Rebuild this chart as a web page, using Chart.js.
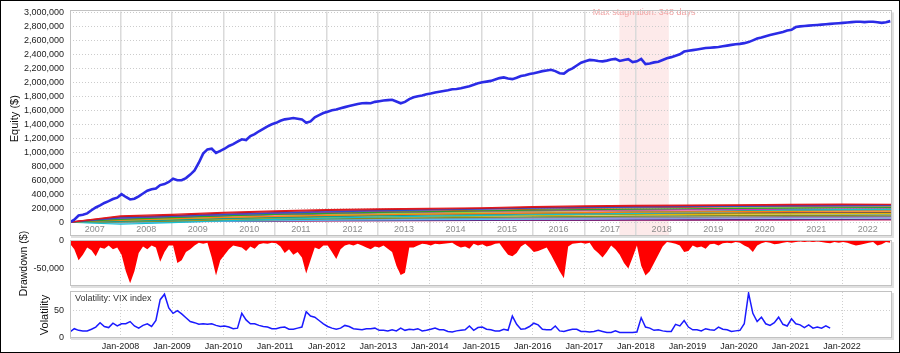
<!DOCTYPE html>
<html><head><meta charset="utf-8">
<script src="https://cdn.jsdelivr.net/npm/chart.js@4.4.0/dist/chart.umd.min.js"></script>
<style>
html,body{margin:0;padding:0;background:#fff;}
#wrap{position:relative;width:900px;height:353px;overflow:hidden;background:#fff;}
canvas{position:absolute;left:0;top:0;}
#frame{position:absolute;left:0;top:0;width:900px;height:353px;box-sizing:border-box;border:1px solid #000;pointer-events:none;}
</style></head><body>
<div id="wrap">
<canvas id="cEq" width="900" height="353"></canvas>
<canvas id="cDd" width="900" height="353"></canvas>
<canvas id="cVx" width="900" height="353"></canvas>
<div id="frame"></div>
</div>
<script>
// ---------------- DATA ----------------
const startYear = 2007.02;            // first monthly sample
const xMin = 2007.02, xMax = 2022.97;

// Main portfolio equity, monthly, thousands of $
const equityK = [
 0,35,95,105,125,170,210,240,275,300,330,350,
 400,360,325,335,370,410,450,470,480,530,545,575,
 620,600,600,630,680,740,850,980,1040,1050,990,1020,
 1050,1090,1115,1150,1185,1175,1230,1260,1300,1335,1370,1400,
 1420,1450,1470,1480,1490,1480,1470,1420,1440,1500,1530,1560,
 1580,1600,1610,1630,1645,1660,1675,1690,1700,1705,1700,1720,
 1730,1740,1745,1750,1725,1700,1720,1760,1785,1800,1810,1830,
 1840,1855,1865,1875,1885,1900,1905,1915,1930,1945,1965,1985,
 2000,2010,2020,2040,2060,2070,2055,2045,2065,2090,2100,2120,
 2130,2145,2160,2170,2180,2160,2130,2125,2170,2200,2240,2280,
 2300,2320,2315,2305,2300,2310,2325,2335,2305,2320,2330,2290,
 2300,2335,2260,2270,2285,2295,2320,2345,2360,2380,2400,2440,
 2450,2460,2470,2480,2490,2495,2500,2505,2515,2525,2535,2545,
 2550,2560,2575,2600,2625,2640,2660,2675,2690,2705,2720,2740,
 2750,2790,2800,2805,2810,2815,2820,2825,2830,2835,2840,2845,
 2850,2855,2860,2865,2865,2860,2865,2865,2860,2850,2860,2875
];

// Drawdown, monthly, thousands of $
const drawdownK = [
 -5,-15,-35,-25,-12,-17,-28,-12,-14,-8,-15,-12,
 -25,-55,-77,-55,-22,-10,-15,-8,-12,-38,-20,-8,
 -8,-40,-35,-20,-15,-8,-3,-5,-3,-30,-63,-35,
 -25,-15,-8,-10,-12,-18,-10,-14,-6,-4,-5,-3,
 -4,-10,-22,-15,-25,-20,-30,-59,-35,-12,-15,-8,
 -8,-20,-33,-15,-8,-6,-8,-5,-8,-12,-15,-10,
 -12,-8,-14,-20,-45,-62,-58,-12,-12,-8,-5,-6,
 -8,-5,-6,-5,-4,-3,-8,-12,-10,-14,-5,-8,
 -6,-10,-8,-5,-4,-15,-25,-28,-22,-10,-5,-12,
 -20,-18,-15,-12,-25,-40,-55,-68,-10,-5,-4,-3,
 -5,-3,-15,-22,-30,-20,-8,-15,-25,-40,-50,-30,
 -8,-45,-63,-55,-40,-25,-10,-2,-3,-5,-8,-20,
 -18,-8,-12,-10,-14,-6,-5,-8,-4,-3,-4,-2,
 -3,-8,-12,-20,-8,-4,-2,-3,-6,-5,-3,-2,
 -3,-2,-1,-2,-1,-2,-1,-2,-3,-4,-2,-3,
 -2,-3,-6,-8,-7,-5,-3,-2,-8,-6,-2,-3
];

// VIX index, monthly (Jan 2007 - Oct 2021)
const vix = [
 11,17,14,13,13,16,20,28,21,19,27,22,
 26,26,30,22,18,23,26,21,32,70,80,55,
 45,50,44,37,30,28,25,26,25,26,23,21,
 22,20,17,18,45,33,26,26,23,21,20,17,
 17,19,20,16,16,18,20,48,40,38,32,26,
 21,18,16,18,23,21,17,16,15,17,17,18,
 14,14,13,15,13,18,14,16,15,17,13,14,
 16,18,15,15,12,11,13,14,15,22,14,19,
 20,16,15,13,13,16,14,40,25,16,17,21,
 27,24,16,15,15,22,13,12,14,16,16,12,
 12,11,12,14,12,10,10,13,10,10,10,10,
 11,37,20,18,14,15,13,12,12,25,22,32,
 20,15,15,13,17,15,14,20,16,15,12,13,
 14,26,82,45,30,38,26,23,28,38,25,22,
 35,26,24,19,24,18,20,18,22,18
];

// Other strategies, yearly samples, thousands of $
const strategyYears = [2007.02,2008,2009,2010,2011,2012,2013,2014,2015,2016,2017,2018,2019,2020,2021,2022,2023];
const s01 = [0,90,112,140,162,178,190,196,206,222,232,240,244,247,254,258,256];
const s02 = [0,78,98,128,150,168,180,188,198,212,222,230,236,240,248,251,250];
const s03 = [0,60,84,108,128,148,160,174,186,200,208,214,222,226,232,234,236];
const s04 = [0,70,90,116,136,156,168,178,190,204,212,220,226,230,236,240,242];
const s05 = [0,40,64,90,110,126,140,150,160,172,180,186,192,196,202,206,208];
const s06 = [0,30,50,68,84,96,106,114,122,130,136,142,146,150,154,156,158];
const s07 = [0,-30,-8,20,40,58,74,86,96,106,116,126,136,150,172,180,182];
const s08 = [0,10,30,50,66,80,92,102,112,122,132,142,150,160,168,174,176];
const s09 = [0,50,70,96,114,130,140,148,156,166,172,176,180,184,186,190,192];
const s10 = [0,20,40,60,80,100,116,130,142,156,166,176,186,200,206,212,214];
const s11 = [0,15,30,44,56,66,74,82,88,96,102,106,110,114,118,121,122];
const s12 = [0,25,40,56,70,84,94,102,108,116,122,126,130,134,138,140,142];
const s13 = [0,35,55,76,92,106,118,128,138,148,154,160,164,168,170,173,175];
const s14 = [0,45,60,80,96,110,122,132,140,150,158,164,170,172,176,178,180];
const s15 = [0,5,15,26,36,46,54,60,68,76,80,86,90,93,96,98,99];
const s16 = [0,-15,0,14,26,36,46,54,62,70,76,82,88,96,100,104,108];
const s17 = [0,10,20,30,38,46,50,56,60,66,68,70,72,76,78,80,82];
const s18 = [0,20,26,34,40,46,48,50,52,56,57,58,60,62,66,68,70];
const s19 = [0,55,76,100,120,136,150,160,170,184,196,204,212,218,226,228,230];
const s20 = [0,14,26,40,50,62,70,80,88,98,106,112,118,126,130,136,138];
const s21 = [0,5,10,18,22,28,32,36,40,44,48,50,52,56,58,60,62];
const s22 = [0,10,12,15,18,20,22,24,26,28,30,32,34,36,38,40,42];
const s23 = [0,30,46,64,80,96,108,118,126,136,142,150,158,164,170,172,175];
const s24 = [0,5,8,10,14,18,20,22,24,25,26,27,28,30,30,31,32];
const strategyColors = ['#e41a1c','#b2182b','#3050d0','#7b3fa8','#2ca02c','#ff7f0e','#17becf','#1a9a8a',
 '#d62fbf','#9acd32','#e6b800','#8c564b','#f48fb1','#1f2a80','#8a8a20','#56b4e9',
 '#7f7f7f','#b07fe0','#e8501a','#1b7a2f','#4fc3f7','#5e2a84','#7fd34e','#c2185b'];
const strategies = [s01,s02,s03,s04,s05,s06,s07,s08,s09,s10,s11,s12,s13,s14,s15,s16,s17,s18,s19,s20,s21,s22,s23,s24];

// Stagnation period
const stagnationStart = 2017.68, stagnationEnd = 2018.64;
const stagnationText = 'Max stagnation: 348 days';

// Tick labels
const equityTicks = [0,200000,400000,600000,800000,1000000,1200000,1400000,1600000,1800000,2000000,2200000,2400000,2600000,2800000,3000000];
const yearLabels = ['2007','2008','2009','2010','2011','2012','2013','2014','2015','2016','2017','2018','2019','2020','2021','2022'];
const yearLabelCenters = [2007.5,2008.5,2009.5,2010.5,2011.5,2012.5,2013.5,2014.5,2015.5,2016.5,2017.5,2018.5,2019.5,2020.5,2021.5,2022.5];
const drawdownTicks = [0,-50000];
const vixTicks = [0,50];
const monthTickYears = [2008,2009,2010,2011,2012,2013,2014,2015,2016,2017,2018,2019,2020,2021,2022];
const monthTickLabels = ['Jan-2008','Jan-2009','Jan-2010','Jan-2011','Jan-2012','Jan-2013','Jan-2014','Jan-2015','Jan-2016','Jan-2017','Jan-2018','Jan-2019','Jan-2020','Jan-2021','Jan-2022'];

// ---------------- CHARTS ----------------
const FONT = "'Liberation Sans', Arial, sans-serif";
Chart.defaults.font.family = FONT;
Chart.defaults.font.size = 9;
Chart.defaults.color = '#222';

const monthly = (arr, scale) => arr.map((v, i) => ({x: startYear + i / 12, y: v * scale}));
const fmt = v => Number(v).toLocaleString('en-US');

function drawFrame(chart, bottom) {
  const {ctx, chartArea: a} = chart;
  const b = bottom === undefined ? a.bottom : bottom;
  ctx.save();
  ctx.fillStyle = '#e0e0e0';
  ctx.fillRect(a.right, a.top + 1, 2, b - a.top + 1);
  ctx.fillRect(a.left + 1, b, a.right - a.left + 1, 2);
  ctx.strokeStyle = '#c2c2c2';
  ctx.lineWidth = 1;
  ctx.strokeRect(Math.round(a.left) + 0.5, Math.round(a.top) - 0.5, Math.round(a.right - a.left) - 1, Math.round(b - a.top));
  ctx.restore();
}

const baseOpts = {
  responsive: false, animation: false, devicePixelRatio: 1, events: [],
  plugins: {legend: {display: false}, tooltip: {enabled: false}},
  elements: {point: {radius: 0}, line: {tension: 0}}
};

// Equity chart
const eqDatasets = [{
  data: monthly(equityK, 1000), borderColor: '#2b2be6', borderWidth: 2.6, pointRadius: 0
}];
strategies.forEach((s, k) => {
  eqDatasets.push({
    data: s.map((v, i) => ({x: strategyYears[i], y: v * 1000})),
    borderColor: strategyColors[k], borderWidth: 1.2, pointRadius: 0
  });
});

const eqPlugin = {
  id: 'eqPlugin',
  beforeDraw(chart) {
    const {ctx, chartArea: a, scales} = chart;
    const x1 = scales.x.getPixelForValue(stagnationStart);
    const x2 = scales.x.getPixelForValue(stagnationEnd);
    ctx.save();
    ctx.fillStyle = '#fdeaea';
    ctx.fillRect(x1, a.top, x2 - x1, a.bottom + 10 - a.top);
    ctx.fillStyle = '#f2a3a3';
    ctx.font = "9px " + FONT;
    ctx.textAlign = 'center';
    ctx.textBaseline = 'middle';
    ctx.fillText(stagnationText, (x1 + x2) / 2, 13);
    ctx.restore();
  },
  afterDraw(chart) { drawFrame(chart, chart.chartArea.bottom + 10); }
};

new Chart(document.getElementById('cEq'), {
  type: 'line',
  data: {datasets: eqDatasets},
  options: Object.assign({}, baseOpts, {
    layout: {padding: {left: 0, right: 8, top: 5, bottom: 117}},
    scales: {
      x: {
        type: 'linear', min: xMin, max: xMax,
        afterBuildTicks: ax => { ax.ticks = yearLabelCenters.map(v => ({value: v})); },
        afterFit: ax => { ax.height = 10; },
        grid: {offset: true, color: '#dadada', lineWidth: 1.5, drawTicks: true, tickLength: 10},
        border: {display: false},
        ticks: {autoSkip: false, maxRotation: 0, padding: -12, color: '#8c8c8c', callback: (v, i) => yearLabels[i]}
      },
      y: {
        min: -55000, max: 3014000,
        afterBuildTicks: ax => { ax.ticks = equityTicks.map(v => ({value: v})); },
        afterFit: ax => { ax.width = 70; },
        grid: {color: '#cccccc', drawTicks: false},
        border: {display: false, dash: [1, 2]},
        ticks: {padding: 6, callback: v => fmt(v)},
        title: {display: true, text: 'Equity ($)', font: {size: 11}, color: '#111', padding: {top: 8}}
      }
    }
  }),
  plugins: [eqPlugin]
});

// Drawdown chart
new Chart(document.getElementById('cDd'), {
  type: 'line',
  data: {datasets: [{
    data: monthly(drawdownK, 1000), borderColor: 'rgba(255,0,0,0)', borderWidth: 0,
    backgroundColor: '#ff0000', fill: 'origin', pointRadius: 0
  }]},
  options: Object.assign({}, baseOpts, {
    layout: {padding: {left: 0, right: 8, top: 241, bottom: 67}},
    scales: {
      x: {
        type: 'linear', min: xMin, max: xMax,
        afterBuildTicks: ax => { ax.ticks = monthTickYears.map(v => ({value: v})); },
        afterFit: ax => { ax.height = 0; },
        grid: {color: '#cfcfcf', drawTicks: false},
        border: {display: false, dash: [1, 2]},
        ticks: {display: false}
      },
      y: {
        min: -82000, max: 0,
        afterBuildTicks: ax => { ax.ticks = drawdownTicks.map(v => ({value: v})); },
        afterFit: ax => { ax.width = 70; },
        grid: {color: '#cfcfcf', drawTicks: false},
        border: {display: false, dash: [1, 2]},
        ticks: {padding: 6, callback: v => fmt(v)},
        title: {display: true, text: 'Drawdown ($)', font: {size: 10.5}, color: '#111', padding: {top: 18}}
      }
    }
  }),
  plugins: [{id: 'ddFrame', afterDraw(chart) { drawFrame(chart); }}]
});

// Volatility chart
new Chart(document.getElementById('cVx'), {
  type: 'line',
  data: {datasets: [{
    data: monthly(vix, 1), borderColor: '#1a1aff', borderWidth: 1.5, pointRadius: 0
  }]},
  options: Object.assign({}, baseOpts, {
    layout: {padding: {left: 0, right: 8, top: 292, bottom: 0}},
    scales: {
      x: {
        type: 'linear', min: xMin, max: xMax,
        afterBuildTicks: ax => { ax.ticks = monthTickYears.map(v => ({value: v})); },
        afterFit: ax => { ax.height = 15; },
        grid: {color: '#cfcfcf', drawTicks: false},
        border: {display: false, dash: [1, 2]},
        ticks: {autoSkip: false, maxRotation: 0, padding: 3, callback: (v, i) => monthTickLabels[i]}
      },
      y: {
        min: 0, max: 84,
        afterBuildTicks: ax => { ax.ticks = vixTicks.map(v => ({value: v})); },
        afterFit: ax => { ax.width = 70; },
        grid: {color: '#cfcfcf', drawTicks: false},
        border: {display: false, dash: [1, 2]},
        ticks: {padding: 6, callback: v => fmt(v)},
        title: {display: true, text: 'Volatility', font: {size: 11}, color: '#111', padding: {top: 38}}
      }
    }
  }),
  plugins: [{id: 'vxPlugin', afterDraw(chart) {
    drawFrame(chart);
    const ctx = chart.ctx;
    ctx.save();
    ctx.fillStyle = '#333';
    ctx.font = "9px " + FONT;
    ctx.textAlign = 'left';
    ctx.textBaseline = 'middle';
    ctx.fillText('Volatility: VIX index', chart.chartArea.left + 5, chart.chartArea.top + 7);
    ctx.restore();
  }}]
});
</script>
</body></html>
